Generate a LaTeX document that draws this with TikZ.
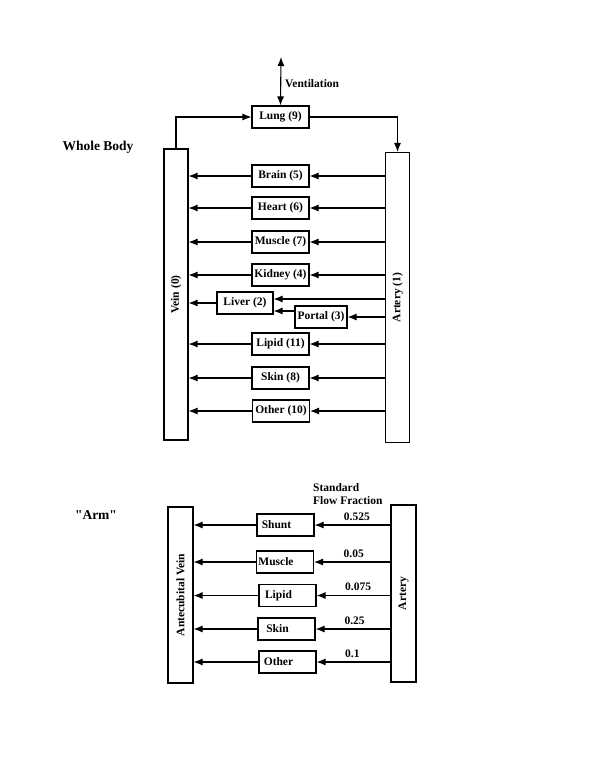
\documentclass[tikz,border=0pt]{standalone}
\usepackage{fontspec}
\setmainfont{Liberation Serif}[Ligatures=TeXOff]
\usetikzlibrary{arrows.meta}

\begin{document}
\begin{tikzpicture}[x=1pt,y=-1pt,
    organ/.style={draw,line width=1.1pt,inner sep=0pt,minimum width=57pt,minimum height=22pt,font=\fontsize{11.5}{13}\selectfont\bfseries},
    vessel/.style={draw,line width=1.1pt,inner sep=0pt,minimum width=24pt},
    vtext/.style={rotate=90,font=\fontsize{11.5}{13}\selectfont\bfseries},
    armtext/.style={xshift=-9pt,font=\fontsize{11.5}{13}\selectfont\bfseries},
    txt/.style={inner sep=0pt,font=\fontsize{11.5}{13}\selectfont\bfseries},
    frac/.style={txt,pos=0.62,anchor=south west,yshift=4pt},
    flow/.style={line width=1.1pt,-{Latex[length=9pt,width=7pt]}}]
    \useasboundingbox (0,0) rectangle (600,776);

    % whole body
    \node[txt,font=\fontsize{13.5}{15}\selectfont\bfseries] (wb) at (98,147) {Whole Body};
    \node[vessel,minimum height=291pt,label={[vtext]center:Vein (0)}] (vein) at (176,294.5) {};
    \node[vessel,minimum height=290pt,label={[vtext]center:Artery (1)}] (artery) at (397.5,297.5) {};
    \node[organ] (lung) at (280.5,117) {Lung (9)};
    \coordinate (vent) at (281,57);
    \draw[line width=1.1pt,{Latex[length=9pt,width=7pt]}-{Latex[length=9pt,width=7pt]}] (vent) -- (lung.north);
    \node[txt,anchor=west] (ventlabel) at (285,84) {Ventilation};
    \draw[flow] (vein.north) |- (lung.west);
    \draw[flow] (lung.east) -| (artery.north);

    \node[organ] (brain) at (280.5,176) {Brain (5)};
    \node[organ] (heart) at (280.5,208) {Heart (6)};
    \node[organ] (muscle) at (280.5,242) {Muscle (7)};
    \node[organ] (kidney) at (280.5,275) {Kidney (4)};
    \node[organ,minimum width=56pt] (liver) at (245,303) {Liver (2)};
    \node[organ,minimum width=52pt] (portal) at (321,317) {Portal (3)};
    \node[organ] (lipid) at (280.5,344) {Lipid (11)};
    \node[organ] (skin) at (280.5,378) {Skin (8)};
    \node[organ] (other) at (281,411) {Other (10)};

    \draw[flow] (brain -| artery.west) -- (brain.east);
    \draw[flow] (brain.west) -- (brain -| vein.east);
    \draw[flow] (heart -| artery.west) -- (heart.east);
    \draw[flow] (heart.west) -- (heart -| vein.east);
    \draw[flow] (muscle -| artery.west) -- (muscle.east);
    \draw[flow] (muscle.west) -- (muscle -| vein.east);
    \draw[flow] (kidney -| artery.west) -- (kidney.east);
    \draw[flow] (kidney.west) -- (kidney -| vein.east);
    \draw[flow] ([yshift=4pt]liver.east -| artery.west) -- ([yshift=4pt]liver.east);
    \draw[flow] ([yshift=-8pt]liver.east -| portal.west) -- ([yshift=-8pt]liver.east);
    \draw[flow] (liver.west) -- (liver -| vein.east);
    \draw[flow] (portal -| artery.west) -- (portal.east);
    \draw[flow] (lipid -| artery.west) -- (lipid.east);
    \draw[flow] (lipid.west) -- (lipid -| vein.east);
    \draw[flow] (skin -| artery.west) -- (skin.east);
    \draw[flow] (skin.west) -- (skin -| vein.east);
    \draw[flow] (other -| artery.west) -- (other.east);
    \draw[flow] (other.west) -- (other -| vein.east);

    % arm
    \node[txt,font=\fontsize{13.5}{15}\selectfont\bfseries] (arm) at (96,515) {"Arm"};
    \node[txt,anchor=north west,align=left] (sff) at (313,483) {Standard\\Flow Fraction};
    \node[vessel,minimum width=25pt,minimum height=176pt,label={[vtext]center:Antecubital Vein}] (avein) at (180.5,595) {};
    \node[vessel,minimum width=25pt,minimum height=177pt,label={[vtext]center:Artery}] (aartery) at (403.5,593.5) {};

    \node[organ,label={[armtext]center:Shunt}] (ashunt) at (285.5,525) {};
    \node[organ,label={[armtext]center:Muscle}] (amuscle) at (285,562) {};
    \node[organ,label={[armtext]center:Lipid}] (alipid) at (287.5,595.5) {};
    \node[organ,label={[armtext]center:Skin}] (askin) at (286.5,629) {};
    \node[organ,label={[armtext]center:Other}] (aother) at (287.5,662) {};

    \draw[flow] (ashunt -| aartery.west) -- (ashunt.east) node[frac] {0.525};
    \draw[flow] (ashunt.west) -- (ashunt -| avein.east);
    \draw[flow] (amuscle -| aartery.west) -- (amuscle.east) node[frac] {0.05};
    \draw[flow] (amuscle.west) -- (amuscle -| avein.east);
    \draw[flow] (alipid -| aartery.west) -- (alipid.east) node[frac] {0.075};
    \draw[flow] (alipid.west) -- (alipid -| avein.east);
    \draw[flow] (askin -| aartery.west) -- (askin.east) node[frac] {0.25};
    \draw[flow] (askin.west) -- (askin -| avein.east);
    \draw[flow] (aother -| aartery.west) -- (aother.east) node[frac] {0.1};
    \draw[flow] (aother.west) -- (aother -| avein.east);
\end{tikzpicture}
\end{document}
